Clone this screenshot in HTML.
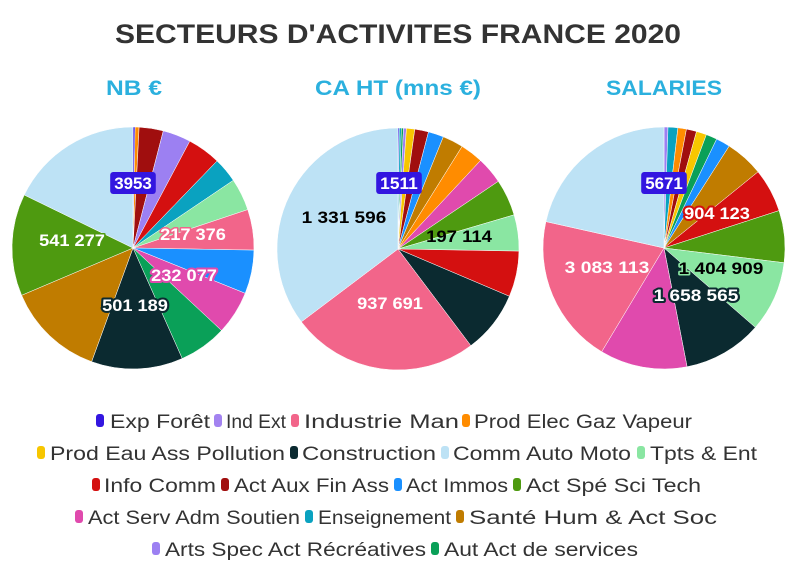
<!DOCTYPE html>
<html><head><meta charset="utf-8"><style>
html,body{margin:0;padding:0;background:#fff;}
svg{display:block;font-family:"Liberation Sans",sans-serif;}
.lg{font-size:19px;fill:#333;}
.lb{font-size:17px;font-weight:bold;paint-order:stroke;stroke-linejoin:round;}
</style></head><body>
<svg id="s" width="796" height="575" viewBox="0 0 796 575" xmlns="http://www.w3.org/2000/svg">
<text x="398" y="43" text-anchor="middle" font-size="27" font-weight="bold" fill="#333" textLength="566" lengthAdjust="spacingAndGlyphs">SECTEURS D'ACTIVITES FRANCE 2020</text>
<text x="134" y="95" text-anchor="middle" font-size="21" font-weight="bold" fill="#2bb0de" textLength="56" lengthAdjust="spacingAndGlyphs">NB €</text>
<text x="398" y="95" text-anchor="middle" font-size="21" font-weight="bold" fill="#2bb0de" textLength="166" lengthAdjust="spacingAndGlyphs">CA HT (mns €)</text>
<text x="664" y="95" text-anchor="middle" font-size="21" font-weight="bold" fill="#2bb0de" textLength="116" lengthAdjust="spacingAndGlyphs">SALARIES</text>
<g id="pies"></g>
<g id="labels"></g>
<g id="legend"></g>
</svg>
<script>
var C={exp:"#3316e0",ind:"#a383f0",man:"#f2658a",elec:"#ff8c00",eau:"#f7c600",con:"#0b2a30",comm:"#bde2f5",tpts:"#8ae6a2",info:"#d41010",fin:"#a00e0e",immo:"#1a90ff",spe:"#4e9a10",serv:"#e04aad",ens:"#0aa2c0",sante:"#c07c00",arts:"#9c80f2",aut:"#0aa058"};
var pies=[
 {cx:133,cy:248,r:121,s:[["exp",0,1],["elec",1,2.9],["fin",2.9,14.5],["arts",14.5,28],["info",28,44],["ens",44,56],["tpts",56,71.5],["man",71.5,91],["immo",91,112],["serv",112,133],["aut",133,156],["con",156,200],["sante",200,247],["spe",247,296],["comm",296,360]]},
 {cx:398,cy:249,r:121,s:[["exp",0,0.6],["ens",0.6,1.6],["aut",1.6,2.6],["arts",2.6,4],["eau",4,8],["fin",8,14.6],["immo",14.6,22],["sante",22,32],["elec",32,43],["serv",43,56],["spe",56,73.6],["tpts",73.6,91],["info",91,113],["con",113,143],["man",143,233],["comm",233,360]]},
 {cx:664,cy:248,r:121,s:[["arts",0,1.9],["ens",1.9,6.6],["elec",6.6,10.7],["fin",10.7,15.6],["eau",15.6,20.5],["aut",20.5,25.8],["immo",25.8,32.6],["sante",32.6,51],["info",51,72],["spe",72,97],["tpts",97,131],["con",131,169],["serv",169,211],["man",211,282.6],["comm",282.6,360]]}
];
var NS="http://www.w3.org/2000/svg";
function el(n,a,p,t){var e=document.createElementNS(NS,n);for(var k in a)e.setAttribute(k,a[k]);if(t!=null)e.textContent=t;p.appendChild(e);return e;}
var g=document.getElementById("pies");
pies.forEach(function(p){p.s.forEach(function(s){
 var a0=(s[1]-90)*Math.PI/180,a1=(s[2]-90)*Math.PI/180;
 var x0=p.cx+p.r*Math.cos(a0),y0=p.cy+p.r*Math.sin(a0),x1=p.cx+p.r*Math.cos(a1),y1=p.cy+p.r*Math.sin(a1);
 var lg=(s[2]-s[1])>180?1:0;
 el("path",{d:"M"+p.cx+","+p.cy+"L"+x0+","+y0+"A"+p.r+","+p.r+" 0 "+lg+" 1 "+x1+","+y1+"Z",fill:C[s[0]],stroke:"#fff","stroke-width":"0.5"},g);
});});
var L=document.getElementById("labels");
function lab(x,y,t,fill,stroke,w){el("text",{x:x,y:y+6,"text-anchor":"middle","class":"lb",fill:fill,stroke:stroke,"stroke-width":w||0,textLength:t.length*9.4,lengthAdjust:"spacingAndGlyphs"},L,t);}
function box(x,y,t,bg){var w=t.length*9.4+8;el("rect",{x:x-w/2,y:y-11,width:w,height:22,rx:3,fill:bg},L);lab(x,y,t,"#fff","none",0);}
box(133,183,"3953",C.exp);box(399,183,"1511",C.exp);box(664,183,"5671",C.exp);
lab(72,240,"541 277","#fff",C.spe,3);
lab(193,234,"217 376","#fff",C.man,3);
lab(184,275,"232 077","#fff",C.serv,4);
lab(135,305,"501 189","#fff",C.con,4);
lab(344,217,"1 331 596","#000","none",0);
lab(459,236,"197 114","#000","none",0);
lab(390,303,"937 691","#fff","none",0);
lab(717,213,"904 123","#fff",C.info,4);
lab(607,267,"3 083 113","#fff","none",0);
lab(721,268,"1 404 909","#000",C.tpts,3);
lab(696,295,"1 658 565","#fff",C.con,4);
var G=document.getElementById("legend");
var rows=[[421,[[96,"exp","Exp Forêt",110,210],[214,"ind","Ind Ext",226,286],[291,"man","Industrie Man",304,459],[462,"elec","Prod Elec Gaz Vapeur",474,692]]],
[453,[[37,"eau","Prod Eau Ass Pollution",50,285],[290,"con","Construction",302,436],[441,"comm","Comm Auto Moto",453,631],[637,"tpts","Tpts & Ent",650,757]]],
[485,[[92,"info","Info Comm",104,216],[221,"fin","Act Aux Fin Ass",234,389],[394,"immo","Act Immos",406,508],[513,"spe","Act Spé Sci Tech",526,701]]],
[517,[[75,"serv","Act Serv Adm Soutien",88,300],[305,"ens","Enseignement",318,451],[456,"sante","Santé Hum & Act Soc",469,717]]],
[549,[[152,"arts","Arts Spec Act Récréatives",165,426],[431,"aut","Aut Act de services",444,638]]]];
rows.forEach(function(r){r[1].forEach(function(i){
 el("rect",{x:i[0],y:r[0]-7,width:8,height:13,rx:3,fill:C[i[1]]},G);
 el("text",{x:i[3],y:r[0]+7,"class":"lg",textLength:i[4]-i[3],lengthAdjust:"spacingAndGlyphs"},G,i[2]);
});});
</script>
</body></html>
